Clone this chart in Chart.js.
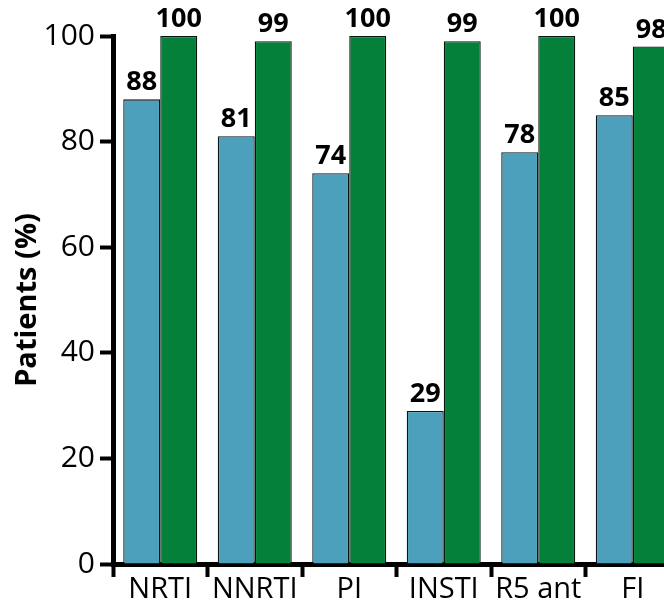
<!DOCTYPE html>
<html>
<head>
<meta charset="utf-8">
<script src="https://cdn.jsdelivr.net/npm/chart.js@4/dist/chart.umd.min.js"></script>
<style>
  html, body { margin: 0; padding: 0; background: #fff; overflow: hidden; }
  #wrap { width: 690px; height: 611px; }
</style>
</head>
<body>
<div id="wrap"><canvas id="myChart" width="690" height="611"></canvas></div>
<script>
'use strict';

let drugClasses = ['NRTI', 'NNRTI', 'PI', 'INSTI', 'R5 ant', 'FI'];
let blueValues = [88, 81, 74, 29, 78, 85];
let greenValues = [100, 99, 100, 99, 100, 98];
let yTicks = [0, 20, 40, 60, 80, 100];

let canvasElem = document.getElementById('myChart');

// draws the numbers above each bar
let barLabels = {
  id: 'barLabels',
  afterDatasetsDraw(chart) {
    let ctx = chart.ctx;
    ctx.save();
    ctx.font = 'bold 27px "Open Sans"';
    ctx.fillStyle = '#000';
    ctx.textAlign = 'center';
    ctx.textBaseline = 'alphabetic';
    chart.data.datasets.forEach(function (ds, i) {
      chart.getDatasetMeta(i).data.forEach(function (bar, j) {
        ctx.fillText(String(ds.data[j]), bar.x, bar.y - 9);
      });
    });
    ctx.restore();
  }
};

function renderChart() {
  let chartObj = {
    type: 'bar',
    data: {
      labels: drugClasses,
      datasets: [{
        data: blueValues,
        backgroundColor: '#4ca0bb',
        borderColor: '#0d1518',
        borderWidth: 1.3,
        borderSkipped: 'bottom'
      },
      {
        data: greenValues,
        backgroundColor: '#05803b',
        borderColor: '#06180d',
        borderWidth: 1.3,
        borderSkipped: 'bottom'
      }]
    },
    options: {
      responsive: false,
      animation: false,
      categoryPercentage: 0.783,
      barPercentage: 1.0,
      layout: { padding: { top: 36, right: 10, left: 0, bottom: 0 } },
      plugins: {
        legend: { display: false },
        tooltip: { enabled: false }
      },
      scales: {
        x: {
          grid: {
            offset: true,
            drawOnChartArea: false,
            tickLength: 13,
            tickWidth: 4,
            tickColor: '#000'
          },
          border: { color: '#000', width: 5 },
          ticks: {
            color: '#000',
            font: { family: 'Open Sans', size: 29 },
            padding: -5,
            maxRotation: 0,
            autoSkip: false
          },
          afterFit(scale) { scale.height = 47; }
        },
        y: {
          min: 0,
          max: 100,
          afterBuildTicks(scale) {
            scale.ticks = yTicks.map(function (v) { return { value: v }; });
          },
          grid: {
            drawOnChartArea: false,
            tickLength: 13,
            tickWidth: 4,
            tickColor: '#000'
          },
          border: { color: '#000', width: 5 },
          ticks: {
            color: '#000',
            font: { family: 'Open Sans', size: 30 },
            padding: 5
          },
          title: {
            display: true,
            text: 'Patients (%)',
            color: '#000',
            font: { family: 'Open Sans', size: 29, weight: 'bold' },
            padding: { top: 10, bottom: 0 }
          },
          afterFit(scale) { scale.width = 113; }
        }
      }
    },
    plugins: [barLabels]
  };
  new Chart(canvasElem, chartObj);
}
renderChart();
</script>
</body>
</html>
